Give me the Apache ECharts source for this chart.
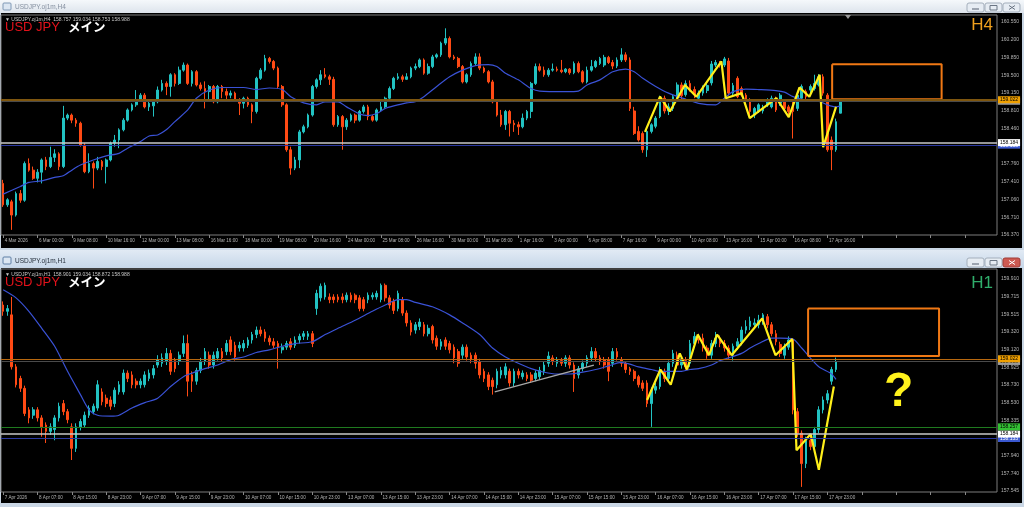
<!DOCTYPE html>
<html><head><meta charset="utf-8">
<script src="https://cdn.jsdelivr.net/npm/echarts@6/dist/echarts.min.js"></script>
<style>html,body{margin:0;padding:0;background:#c9d6e4;}#c{width:1024px;height:507px;}</style>
</head><body><div id="c"></div><script>
// ===== DATA =====
// candles: [open, close, low, high]
const topCandles = [
[157.38,156.96,156.92,157.45],[156.96,157.06,156.92,157.09],[157.02,156.76,156.47,157.06],[156.76,157.18,156.73,157.22],[157.18,157.05,157.00,157.25],
[157.05,157.77,157.02,157.81],[157.77,157.64,157.61,157.87],[157.64,157.48,157.45,157.71],[157.48,157.60,157.40,157.66],[157.60,157.84,157.38,157.87],
[157.84,157.71,157.64,157.90],[157.71,157.89,157.68,158.10],[157.89,157.96,157.80,158.05],[157.96,157.71,157.64,157.99],[157.71,158.66,157.68,158.90],
[158.66,158.72,158.62,158.75],[158.72,158.62,158.56,158.75],[158.62,158.56,158.49,158.66],[158.56,158.13,158.10,158.59],[158.13,157.61,157.58,158.17],
[157.61,157.77,157.58,157.97],[157.77,157.68,157.28,157.81],[157.68,157.81,157.64,157.90],[157.81,157.71,157.64,157.84],[157.71,157.84,157.38,157.87],
[157.84,158.17,157.81,158.20],[158.17,158.23,158.10,158.33],[158.23,158.43,158.07,158.46],[158.43,158.62,158.40,158.66],[158.62,158.82,158.59,158.85],
[158.82,158.92,158.79,158.95],[158.92,159.02,158.88,159.21],[159.02,159.11,158.98,159.15],[159.11,158.88,158.85,159.15],[158.88,158.95,158.80,159.00],
[158.90,158.98,158.69,159.02],[158.98,159.21,158.95,159.28],[159.21,159.34,159.18,159.41],[159.34,159.28,159.11,159.38],[159.28,159.51,159.08,159.54],
[159.51,159.34,159.28,159.54],[159.34,159.60,159.31,159.67],[159.60,159.70,159.57,159.75],[159.70,159.34,159.31,159.73],[159.34,159.57,159.28,159.60],
[159.57,159.31,159.28,159.60],[159.31,159.24,159.20,159.36],[159.24,159.18,158.85,159.38],[159.18,159.28,159.02,159.31],[159.28,158.98,158.95,159.31],
[158.98,159.28,158.95,159.31],[159.28,159.18,159.05,159.31],[159.18,159.11,159.02,159.24],[159.11,159.15,159.05,159.20],[159.15,159.02,158.98,159.18],
[159.02,158.95,158.72,159.05],[158.95,159.05,158.85,159.08],[159.05,158.92,158.88,159.08],[158.92,158.79,158.56,158.95],[158.79,159.44,158.75,159.47],
[159.44,159.60,159.41,159.64],[159.60,159.83,159.57,159.90],[159.83,159.77,159.73,159.86],[159.77,159.64,159.60,159.80],[159.64,159.28,159.24,159.67],
[159.28,158.92,158.88,159.31],[158.92,158.04,158.00,158.95],[158.04,157.68,157.55,158.10],[157.68,157.84,157.64,157.90],[157.84,158.39,157.68,158.43],
[158.39,158.49,158.36,158.53],[158.49,158.72,158.46,158.75],[158.72,159.28,158.69,159.31],[159.28,159.41,159.24,159.44],[159.41,159.51,159.31,159.60],
[159.51,159.47,159.44,159.64],[159.47,159.42,159.31,159.51],[159.42,158.53,158.49,159.47],[158.53,158.69,158.49,158.72],[158.69,158.49,158.04,158.72],
[158.49,158.62,158.43,158.66],[158.62,158.72,158.59,158.75],[158.72,158.62,158.56,158.75],[158.62,158.79,158.59,158.82],[158.79,158.88,158.75,158.92],
[158.88,158.69,158.62,158.92],[158.69,158.62,158.59,158.72],[158.62,158.82,158.59,158.85],[158.82,158.88,158.79,159.02],[158.88,159.05,158.85,159.08],
[159.05,159.24,159.02,159.28],[159.24,159.44,159.21,159.47],[159.44,159.47,159.41,159.54],[159.47,159.42,159.37,159.51],[159.42,159.47,159.41,159.54],
[159.47,159.64,159.44,159.67],[159.64,159.67,159.60,159.73],[159.67,159.80,159.64,159.83],[159.80,159.54,159.51,159.83],[159.54,159.67,159.51,159.73],
[159.67,159.86,159.64,159.90],[159.86,159.90,159.83,159.93],[159.90,160.13,159.86,160.16],[160.13,160.22,160.09,160.42],[160.22,159.86,159.83,160.26],
[159.86,159.83,159.80,159.90],[159.83,159.67,159.64,159.86],[159.67,159.37,159.34,159.70],[159.37,159.51,159.34,159.54],[159.51,159.73,159.47,159.77],
[159.73,159.86,159.70,159.93],[159.86,159.64,159.60,159.93],[159.64,159.57,159.54,159.67],[159.57,159.37,159.34,159.60],[159.37,158.98,158.95,159.41],
[158.98,158.72,158.69,159.02],[158.72,158.53,158.49,158.82],[158.53,158.79,158.43,158.82],[158.79,158.56,158.30,158.82],[158.56,158.53,158.39,158.62],
[158.53,158.49,158.33,158.59],[158.49,158.66,158.46,158.75],[158.66,158.79,158.62,158.82],[158.79,159.34,158.66,159.37],[159.34,159.67,159.31,159.73],
[159.67,159.60,159.57,159.73],[159.60,159.51,159.47,159.67],[159.51,159.60,159.47,159.64],[159.60,159.62,159.57,159.73],[159.62,159.60,159.57,159.67],
[159.60,159.57,159.54,159.80],[159.57,159.62,159.54,159.64],[159.62,159.55,159.51,159.64],[159.55,159.73,159.52,159.77],[159.73,159.57,159.54,159.77],
[159.57,159.37,159.34,159.60],[159.37,159.60,159.34,159.67],[159.60,159.67,159.57,159.80],[159.67,159.77,159.64,159.80],
[159.73,159.83,159.70,159.86],[159.70,159.85,159.66,159.90],[159.85,159.75,159.72,159.88],[159.75,159.68,159.62,159.80],[159.68,159.80,159.64,159.85],
[159.80,159.90,159.76,160.03],[159.90,159.80,159.76,159.95],[159.80,158.85,158.80,159.85],[158.80,158.36,158.33,158.88],[158.40,158.23,158.20,158.50],
[158.36,158.04,157.98,158.40],[158.04,158.40,157.90,158.45],[158.40,158.53,158.36,158.56],[158.50,158.66,158.46,158.70],[158.69,159.05,158.66,159.10],
[159.05,158.80,158.75,159.10],[158.80,158.88,158.72,158.95],[158.85,159.08,158.80,159.12],[159.08,159.31,159.05,159.36],[159.31,159.10,159.02,159.36],
[159.12,159.34,159.08,159.40],[159.34,159.22,159.18,159.40],[159.22,159.12,159.05,159.28],[159.05,159.15,159.00,159.20],[159.15,159.25,159.10,159.30],
[159.20,159.30,159.15,159.36],[159.35,159.72,159.30,159.78],[159.70,159.75,159.66,159.80],[159.75,159.70,159.65,159.78],[159.70,159.82,159.66,159.86],
[159.78,159.15,159.10,159.84],[159.15,159.30,159.10,159.35],[159.44,159.08,159.05,159.48],[159.24,159.11,159.08,159.28],[159.11,159.01,158.98,159.15],
[159.01,158.79,158.72,159.05],[158.72,158.85,158.66,158.88],[158.80,158.92,158.76,158.95],[158.80,158.88,158.75,158.92],[158.92,159.01,158.88,159.05],
[158.88,159.05,158.85,159.10],[159.05,158.82,158.78,159.08],[158.95,159.11,158.90,159.15],[158.98,158.85,158.80,159.02],[158.88,158.79,158.72,158.92],
[158.98,158.79,158.26,159.02],[158.85,159.11,158.80,159.15],[159.05,159.28,159.00,159.32],[159.18,159.08,159.02,159.22],[159.21,159.28,159.15,159.32],
[159.24,159.34,159.20,159.51],[159.31,159.47,159.28,159.52],[159.47,159.15,159.10,159.52],[159.11,158.04,158.00,159.15],[158.23,158.04,157.64,158.30],
[158.04,158.59,158.00,158.65],[158.757,158.988,158.753,159.034]
];
const bottomCandles = [
[159.62,159.55,159.50,159.66],[159.55,159.58,159.50,159.62],[159.51,158.93,158.90,159.71],[158.93,158.73,158.70,158.96],[158.80,158.69,158.65,158.83],
[158.69,158.41,158.38,158.72],[158.45,158.36,158.30,158.48],[158.39,158.45,158.35,158.48],[158.45,158.36,158.32,158.48],[158.36,158.26,158.15,158.39],
[158.28,158.21,158.08,158.31],[158.21,158.26,158.17,158.30],[158.23,158.36,158.11,158.39],[158.36,158.49,158.32,158.53],[158.52,158.43,158.39,158.56],
[158.43,158.34,158.30,158.46],[158.26,158.02,157.89,158.30],[158.02,158.26,157.98,158.30],[158.26,158.32,158.22,158.35],[158.28,158.39,158.25,158.43],
[158.39,158.47,158.36,158.50],[158.43,158.49,158.40,158.52],[158.47,158.73,158.44,158.78],[158.65,158.54,158.50,158.69],[158.58,158.52,158.48,158.62],
[158.56,158.49,158.45,158.60],[158.52,158.67,158.48,158.70],[158.65,158.73,158.62,158.77],[158.65,158.86,158.62,158.90],[158.86,158.80,158.76,158.89],
[158.84,158.73,158.69,158.88],[158.77,158.73,158.69,158.80],[158.73,158.77,158.69,158.80],[158.73,158.84,158.70,158.88],[158.80,158.86,158.77,158.90],
[158.84,158.91,158.80,158.95],[158.95,159.01,158.92,159.06],[158.97,159.03,158.93,159.08],[158.99,159.08,158.95,159.14],[159.08,158.88,158.84,159.12],
[159.00,158.91,158.87,159.03],[158.99,159.06,158.95,159.10],[159.08,159.19,159.04,159.28],[159.19,158.77,158.60,159.29],[158.84,158.77,158.65,158.88],
[158.77,158.89,158.73,158.92],[158.89,158.99,158.86,159.03],[158.99,159.10,158.95,159.14],[159.06,158.95,158.91,159.10],[158.95,159.06,158.91,159.10],
[159.03,159.10,159.00,159.14],[159.10,159.03,158.99,159.14],[159.10,159.19,159.06,159.23],[159.23,159.10,159.06,159.27],[159.17,159.04,159.00,159.21],
[159.14,159.17,159.10,159.21],[159.14,159.19,159.10,159.23],[159.17,159.23,159.14,159.26],[159.23,159.29,159.19,159.32],[159.29,159.34,159.25,159.38],
[159.34,159.30,159.27,159.38],[159.32,159.25,159.21,159.35],[159.25,159.21,159.17,159.28],[159.21,159.17,159.14,159.25],[159.19,159.15,158.91,159.22],
[159.12,159.15,159.08,159.19],[159.15,159.19,159.12,159.22],[159.21,159.15,159.12,159.25],[159.17,159.23,159.14,159.27],[159.23,159.27,159.19,159.30],
[159.27,159.30,159.23,159.33],[159.27,159.30,159.23,159.33],[159.30,159.19,159.15,159.33],[159.58,159.75,159.51,159.79],[159.70,159.83,159.66,159.86],
[159.71,159.84,159.68,159.87],[159.71,159.68,159.64,159.75],[159.71,159.68,159.64,159.74],[159.71,159.68,159.65,159.74],[159.71,159.68,159.64,159.75],
[159.68,159.73,159.65,159.76],[159.73,159.68,159.65,159.76],[159.73,159.68,159.64,159.75],[159.70,159.58,159.55,159.73],[159.68,159.58,159.55,159.71],
[159.68,159.73,159.64,159.76],[159.71,159.73,159.68,159.76],[159.71,159.75,159.68,159.78],[159.68,159.84,159.65,159.86],[159.84,159.70,159.66,159.86],
[159.70,159.62,159.58,159.73],[159.66,159.56,159.52,159.69],[159.58,159.75,159.55,159.78],[159.68,159.53,159.50,159.71],[159.53,159.42,159.38,159.56],
[159.42,159.32,159.28,159.45],[159.34,159.40,159.30,159.43],[159.38,159.43,159.34,159.47],[159.40,159.30,159.27,159.43],[159.30,159.36,159.27,159.40],
[159.38,159.23,159.19,159.40],[159.25,159.16,159.12,159.28],[159.16,159.21,159.12,159.24],[159.23,159.16,159.12,159.26],[159.19,159.12,159.08,159.22],
[159.15,159.03,158.97,159.18],[159.10,158.97,158.93,159.13],[159.06,159.15,159.02,159.18],[159.15,159.04,159.00,159.18],[159.06,159.01,158.97,159.09],
[159.06,158.97,158.91,159.09],[158.99,158.84,158.80,159.02],[158.88,158.80,158.76,158.91],[158.84,158.71,158.67,158.87],[158.78,158.71,158.62,158.81],
[158.73,158.88,158.69,158.91],[158.84,158.89,158.80,158.93],[158.84,158.93,158.80,158.97],[158.88,158.75,158.71,158.91],[158.75,158.88,158.71,158.91],
[158.88,158.84,158.80,158.91],[158.82,158.86,158.79,158.89],[158.84,158.80,158.77,158.87],[158.84,158.78,158.75,158.87],[158.80,158.86,158.77,158.89],
[158.82,158.89,158.79,158.93],[158.88,158.95,158.84,158.99],[158.97,159.05,158.93,159.10],[159.03,158.99,158.95,159.06],[158.97,159.01,158.93,159.04],
[159.00,158.97,158.94,159.03],[158.97,159.03,158.93,159.06],[159.03,158.95,158.91,159.06],[158.95,158.80,158.65,158.98],[158.84,158.91,158.80,158.94],
[158.91,158.97,158.88,159.00],[158.97,159.03,158.93,159.06],[159.03,159.10,158.99,159.15],[159.10,159.03,158.99,159.14],[159.03,158.99,158.95,159.06],
[159.01,158.95,158.91,159.04],[159.01,158.88,158.77,159.04],[158.97,159.10,158.93,159.14],[159.10,159.04,159.00,159.14],[159.01,158.97,158.93,159.04],
[158.97,158.90,158.86,158.99],[158.91,158.88,158.84,158.93],[158.88,158.80,158.77,158.90],[158.82,158.73,158.70,158.84],[158.75,158.69,158.66,158.78],
[158.75,158.52,158.48,158.78],[158.52,158.67,158.26,158.70],[158.67,158.71,158.63,158.75],[158.71,158.90,158.68,158.93],[158.88,158.80,158.76,158.91],
[158.80,158.97,158.76,159.00],[158.97,159.08,158.93,159.12],[159.06,158.95,158.91,159.10],[158.95,159.02,158.91,159.05],[159.00,158.93,158.90,159.04],
[158.97,159.19,158.93,159.23],[159.19,159.27,159.15,159.32],[159.27,159.23,159.19,159.30],[159.25,159.14,159.10,159.30],[159.14,159.06,159.02,159.17],
[159.06,159.19,159.02,159.23],[159.19,159.25,159.15,159.32],[159.25,159.19,159.15,159.28],[159.19,159.14,159.10,159.23],[159.14,159.06,159.02,159.17],
[159.06,159.16,159.00,159.19],[159.16,159.21,159.12,159.25],[159.21,159.34,159.17,159.38],[159.34,159.38,159.30,159.45],[159.38,159.44,159.34,159.49],
[159.40,159.42,159.36,159.47],[159.40,159.45,159.36,159.51],[159.44,159.51,159.40,159.53],[159.49,159.40,159.36,159.52],[159.40,159.30,159.27,159.43],
[159.30,159.21,159.17,159.34],[159.18,159.08,159.04,159.21],[159.06,159.15,159.02,159.19],[159.15,159.23,159.12,159.27],[159.23,158.45,158.40,159.25],
[158.43,158.19,158.15,158.47],[158.19,157.85,157.59,158.22],[157.85,158.11,157.80,158.15],[158.11,158.04,158.00,158.16],[158.04,158.23,158.00,158.26],
[158.23,158.45,158.19,158.49],[158.45,158.56,158.41,158.60],[158.56,158.63,158.52,158.67],[158.77,158.90,158.73,158.93],[158.901,158.988,158.872,159.034]
];
// moving average read at sampled bars: [bar, price]
const topMA = [[0,157.17],[4,157.32],[6,157.40],[9,157.43],[12,157.50],[14,157.53],[16,157.64],[18,157.74],[21,157.84],[24,157.92],[27,157.97],[29,158.07],[32,158.20],[34,158.31],[36,158.33],[38,158.43],[40,158.59],[43,158.82],[45,159.05],[48,159.21],[51,159.26],[56,159.26],[59,159.22],[62,159.25],[65,159.22],[67,159.08],[70,158.96],[73,158.92],[75,158.98],[78,158.98],[80,158.88],[83,158.74],[85,158.71],[87,158.75],[89,158.85],[91,158.90],[94,158.96],[96,158.98],[98,159.08],[101,159.28],[104,159.47],[107,159.60],[110,159.69],[113,159.71],[115,159.67],[117,159.54],[120,159.41],[123,159.24],[125,159.19],[131,159.18],[134,159.19],[136,159.31],[139,159.41],[142,159.57],[145,159.62],[147,159.57],[149,159.44],[152,159.28],[155,159.15],[159,159.03],[162,158.95],[166,158.92],[168,159.05],[170,159.18],[173,159.23],[176,159.22],[180,159.20],[182,159.17],[184,159.08],[187,159.01],[190,158.99],[192,158.92],[194,158.88],[195,158.90]];
const bottomMA = [[0,159.79],[3,159.70],[6,159.55],[9,159.36],[12,159.16],[15,158.88],[18,158.62],[20,158.45],[22,158.39],[25,158.38],[27,158.39],[30,158.47],[33,158.53],[36,158.58],[39,158.71],[42,158.82],[44,158.86],[47,158.91],[50,158.95],[53,159.01],[56,159.04],[59,159.09],[62,159.12],[65,159.16],[68,159.19],[72,159.21],[75,159.29],[78,159.36],[82,159.45],[86,159.55],[89,159.62],[92,159.68],[94,159.68],[96,159.65],[100,159.60],[104,159.51],[107,159.42],[111,159.29],[114,159.14],[117,159.04],[120,158.97],[123,158.91],[126,158.87],[129,158.85],[132,158.85],[135,158.87],[138,158.90],[141,158.94],[144,158.98],[146,158.96],[148,158.93],[151,158.90],[153,158.88],[156,158.88],[158,158.88],[160,158.90],[162,158.91],[165,158.95],[167,159.00],[169,159.03],[172,159.08],[174,159.14],[176,159.19],[179,159.25],[181,159.25],[184,159.24],[186,159.14],[188,159.03],[190,158.93],[193,158.85],[194,158.79]];
// hand-drawn annotations: [bar, price]
const topZigzag = [[149.5,158.39],[153,159.08],[155.3,158.79],[158.8,159.31],[161.5,159.08],[167.3,159.77],[168.3,159.05],[172,159.15],[173.9,158.66],[180.1,159.05],[183,158.68],[185.5,159.26],[187.8,159.08],[190.2,159.51],[191,158.09],[194,158.88]];
const bottomZigzag = [[150.0,158.56],[153.1,158.90],[155.5,158.73],[157.6,159.08],[159.3,158.90],[161.8,159.29],[164.4,159.06],[166.3,159.29],[169.7,159.06],[176.8,159.47],[179.9,159.06],[183.8,159.24],[184.8,158.00],[188.1,158.18],[190.0,157.78],[193.5,158.71]];
const bottomTrend = [[114.5,158.65],[137.6,158.95]];
const topZone = [[193.1,159.715],[218.6,159.03]];
const bottomZone = [[187.5,159.58],[218.0,159.05]];
const questionMark = [208.6,158.64];
// horizontal levels
const topLevels = [158.133,158.184,158.988,159.022];
const bottomLevels = [158.133,158.184,158.257,158.988,159.022];
// axis labels
const topPriceTicks = [156.37,156.71,157.06,157.41,157.76,158.46,158.81,159.15,159.50,159.85,160.20,160.55];
const bottomPriceTicks = [157.545,157.740,157.940,158.335,158.530,158.730,158.925,159.120,159.320,159.515,159.715,159.910];
const topTimeLabels = ['4 Mar 2026','6 Mar 00:00','9 Mar 08:00','10 Mar 16:00','12 Mar 00:00','13 Mar 08:00','16 Mar 16:00','18 Mar 00:00','19 Mar 08:00','20 Mar 16:00','24 Mar 00:00','25 Mar 08:00','26 Mar 16:00','30 Mar 00:00','31 Mar 08:00','1 Apr 16:00','3 Apr 00:00','6 Apr 08:00','7 Apr 16:00','9 Apr 00:00','10 Apr 08:00','13 Apr 16:00','15 Apr 00:00','16 Apr 08:00','17 Apr 16:00'];
const bottomTimeLabels = ['7 Apr 2026','8 Apr 07:00','8 Apr 15:00','8 Apr 23:00','9 Apr 07:00','9 Apr 15:00','9 Apr 23:00','10 Apr 07:00','10 Apr 15:00','10 Apr 23:00','13 Apr 07:00','13 Apr 15:00','13 Apr 23:00','14 Apr 07:00','14 Apr 15:00','14 Apr 23:00','15 Apr 07:00','15 Apr 15:00','15 Apr 23:00','16 Apr 07:00','16 Apr 15:00','16 Apr 23:00','17 Apr 07:00','17 Apr 15:00','17 Apr 23:00'];
const topHeader = '\u25BC USDJPY.oj1m,H4  158.757 159.034 158.753 158.988';
const bottomHeader = '\u25BC USDJPY.oj1m,H1  158.901 159.034 158.872 158.988';

// ===== CHART =====
const SLOTS = 232;
const BULL = '#22c2c2', BEAR = '#ff4a14';
const cats = Array.from({length: SLOTS}, (_, i) => String(i));
const levelStyle = {
  159.022: {line:'#7e560f', w:2, bg:'#f0a000', fg:'#000'},
  158.988: {line:'#4a4a4a', w:1, bg:'#9a9a9a', fg:'#000'},
  158.257: {line:'#1f7a1f', w:1, bg:'#33c033', fg:'#000'},
  158.184: {line:'#c8c8c8', w:1.5, bg:'#ffffff', fg:'#000'},
  158.133: {line:'#2a38a0', w:1.2, bg:'#3a58d0', fg:'#fff'}
};
function levelLines(vals, bottom) {
  return vals.map(v => {
    const s = levelStyle[v];
    return {
      yAxis: v,
      lineStyle: {color: (bottom && v === 159.022) ? '#b8680f' : s.line, width: (bottom && v === 159.022) ? 1 : s.w, type: 'solid'},
      label: {show: true, position: 'end', distance: 1, formatter: v.toFixed(3), backgroundColor: s.bg, color: s.fg,
        fontSize: 5, fontFamily: 'Liberation Sans', padding: [1, 2, 0, 2], lineHeight: 6}
    };
  });
}
function rectPts(z) {
  const [[a, p1], [b, p2]] = z;
  return [[a, p1], [b, p1], [b, p2], [a, p2], [a, p1]];
}
function xAxes(gi, labels) {
  return [
    {type: 'category', gridIndex: gi, data: cats, boundaryGap: true,
      axisLine: {show: false, onZero: false},
      axisTick: {show: true, interval: 7, alignWithLabel: true, length: 3, lineStyle: {color: '#8a8a8a'}},
      axisLabel: {interval: 7, align: 'left', margin: 3, fontSize: 4.6, color: '#b4b4b4', fontFamily: 'Liberation Sans',
        padding: [0, 0, 0, 1.5], formatter: (v, i) => (i % 8 === 0 && labels[i / 8]) ? labels[i / 8] : ''},
      splitLine: {show: false}},
    {type: 'value', gridIndex: gi, min: -0.5, max: SLOTS - 0.5, show: false,
      axisLine: {show: false, onZero: false}, axisTick: {show: false}, axisLabel: {show: false}, splitLine: {show: false}}
  ];
}
function yAxis(gi, min, max, ticks) {
  return {type: 'value', gridIndex: gi, position: 'right', min: min, max: max, scale: true,
    axisLine: {show: false, onZero: false}, splitLine: {show: false},
    axisTick: {show: false},
    axisLabel: {customValues: ticks, margin: 4, fontSize: 5, color: '#b4b4b4', fontFamily: 'Liberation Sans',
      formatter: v => v.toFixed(3)}};
}
function candleSeries(xi, yi, data, levels, bottom) {
  return {type: 'candlestick', xAxisIndex: xi, yAxisIndex: yi, data: data, barWidth: 2.2, silent: true,
    itemStyle: {color: BULL, color0: BEAR, borderColor: BULL, borderColor0: BEAR, borderWidth: 1},
    markLine: {silent: true, symbol: ['none', 'none'], animation: false, data: levelLines(levels, bottom)}};
}
function lineSeries(xi, yi, data, color, width, smooth, z) {
  return {type: 'line', xAxisIndex: xi, yAxisIndex: yi, data: data, showSymbol: false, symbol: 'none', silent: true,
    smooth: smooth, lineStyle: {color: color, width: width}, z: z};
}

const grad = (a, b) => new echarts.graphic.LinearGradient(0, 0, 0, 1, [{offset: 0, color: a}, {offset: 1, color: b}]);
function buttons(y, active) {
  const els = [];
  const xs = [967, 985, 1003];
  xs.forEach((x, k) => {
    const isClose = k === 2;
    els.push({type: 'rect', z: -4, shape: {x: x, y: y, width: 17, height: 9, r: 2},
      style: {fill: (isClose && active) ? '#cd5a52' : '#e6ecf3', stroke: (isClose && active) ? '#a03c36' : '#a4afbc', lineWidth: 1}});
  });
  const gc = '#6b7684';
  els.push({type: 'line', z: -3, shape: {x1: 972, y1: y + 6, x2: 979, y2: y + 6}, style: {stroke: gc, lineWidth: 1.2}});
  els.push({type: 'rect', z: -3, shape: {x: 990, y: y + 2.5, width: 7, height: 4.5}, style: {fill: 'none', stroke: gc, lineWidth: 1}});
  const cc = active ? '#ffffff' : gc;
  els.push({type: 'line', z: -3, shape: {x1: 1009, y1: y + 2.5, x2: 1015, y2: y + 6.5}, style: {stroke: cc, lineWidth: 1}});
  els.push({type: 'line', z: -3, shape: {x1: 1015, y1: y + 2.5, x2: 1009, y2: y + 6.5}, style: {stroke: cc, lineWidth: 1}});
  return els;
}
function textEl(x, y, text, size, color, extra) {
  return {type: 'text', z: 20, x: x, y: y,
    style: Object.assign({text: text, fontSize: size, fill: color, fontFamily: 'Liberation Sans', verticalAlign: 'middle', align: 'left'}, extra || {})};
}
const graphics = [
  {type: 'rect', z: -10, shape: {x: 0, y: 0, width: 1024, height: 507}, style: {fill: '#c9d6e4'}},
  {type: 'rect', z: -9, shape: {x: 0, y: 0, width: 1024, height: 13}, style: {fill: grad('#f5f8fb', '#dde4ec')}},
  {type: 'rect', z: -9, shape: {x: 1, y: 13, width: 1021, height: 235}, style: {fill: '#000'}},
  {type: 'rect', z: -9, shape: {x: 0, y: 250, width: 1024, height: 18}, style: {fill: grad('#e1eaf4', '#c7d7e9')}},
  {type: 'rect', z: -9, shape: {x: 1, y: 268, width: 1021, height: 235}, style: {fill: '#000'}},
  {type: 'rect', z: -4, shape: {x: 3, y: 3, width: 8, height: 7, r: 1}, style: {fill: '#dbe6f2', stroke: '#7f98b5', lineWidth: 1}},
  {type: 'rect', z: -4, shape: {x: 3, y: 257, width: 8, height: 7, r: 1}, style: {fill: '#dbe6f2', stroke: '#5f7fa5', lineWidth: 1}},
  textEl(15, 7, 'USDJPY.oj1m,H4', 6.5, '#8590a0'),
  textEl(15, 261.5, 'USDJPY.oj1m,H1', 6.5, '#27313d'),
  ...buttons(3, false),
  ...buttons(258, true),
  {type: 'polygon', z: 5, shape: {points: [[845, 15], [851, 15], [848, 19]]}, style: {fill: '#9a9a9a'}},
  textEl(5, 19.5, topHeader, 5, '#c8c8c8'),
  textEl(5, 274.5, bottomHeader, 5, '#c8c8c8'),
  textEl(5, 27.5, 'USD JPY', 13, '#e3121b'),
  textEl(5, 282.5, 'USD JPY', 13, '#e3121b'),
  textEl(68, 27.5, 'メイン', 12.5, '#ffffff', {fontWeight: 'bold', fontFamily: 'Noto Sans CJK JP'}),
  textEl(68, 282.5, 'メイン', 12.5, '#ffffff', {fontWeight: 'bold', fontFamily: 'Noto Sans CJK JP'}),
  textEl(993, 25.5, 'H4', 17, '#f0a01e', {align: 'right'}),
  textEl(993, 283.5, 'H1', 17, '#2fae6b', {align: 'right'})
];

const topMin = 156.369, topMax = 160.681, botMin = 157.533, botMax = 160.022;
const chart = echarts.init(document.getElementById('c'), null, {renderer: 'canvas'});
chart.setOption({
  animation: false,
  backgroundColor: 'transparent',
  graphic: graphics,
  grid: [
    {left: 1, top: 15, width: 996, height: 220, show: true, borderColor: '#7c7c7c', borderWidth: 1, backgroundColor: 'transparent', z: 1},
    {left: 1, top: 269, width: 996, height: 223, show: true, borderColor: '#7c7c7c', borderWidth: 1, backgroundColor: 'transparent', z: 1}
  ],
  xAxis: [...xAxes(0, topTimeLabels), ...xAxes(1, bottomTimeLabels)],
  yAxis: [yAxis(0, topMin, topMax, topPriceTicks), yAxis(1, botMin, botMax, bottomPriceTicks)],
  series: [
    candleSeries(0, 0, topCandles, topLevels, false),
    lineSeries(1, 0, topMA, '#3a52d6', 1.2, 0.25, 3),
    lineSeries(1, 0, topZigzag, '#ffef1a', 2.2, false, 4),
    lineSeries(1, 0, rectPts(topZone), '#f07814', 2, false, 4),
    candleSeries(2, 1, bottomCandles, bottomLevels, true),
    lineSeries(3, 1, bottomMA, '#3a52d6', 1.2, 0.25, 3),
    lineSeries(3, 1, bottomTrend, '#a8a8a8', 1.3, false, 3),
    lineSeries(3, 1, bottomZigzag, '#ffef1a', 2.2, false, 4),
    lineSeries(3, 1, rectPts(bottomZone), '#f07814', 2, false, 4),
    {type: 'scatter', xAxisIndex: 3, yAxisIndex: 1, data: [questionMark], symbolSize: 1, silent: true, z: 5,
      itemStyle: {color: 'rgba(0,0,0,0)', opacity: 1},
      label: {show: true, position: 'inside', formatter: '?', fontSize: 48, fontWeight: 'bold', color: '#fff21c', opacity: 1,
        textBorderWidth: 0, fontFamily: 'Liberation Sans'}}
  ]
});
</script></body></html>
